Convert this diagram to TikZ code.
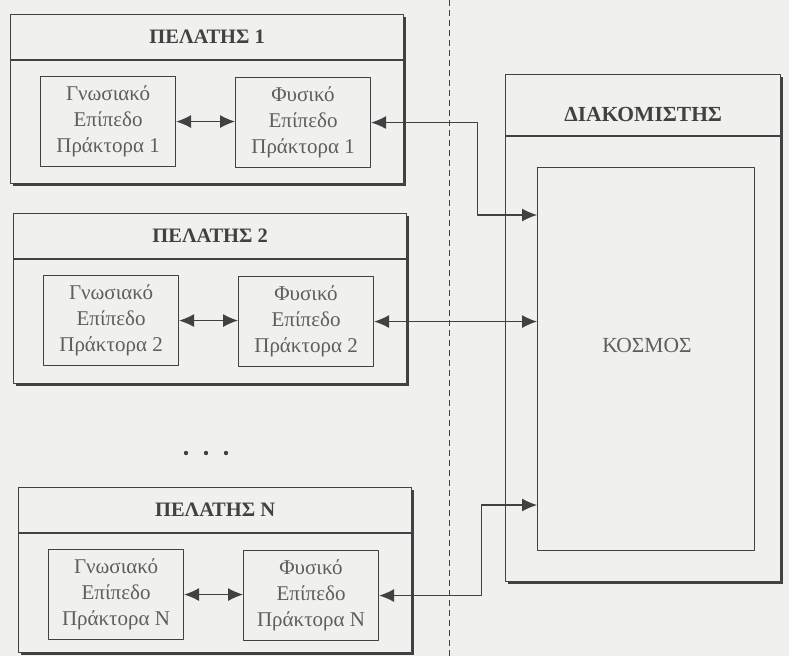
\documentclass[tikz,border=0pt]{standalone}
\usepackage{fontspec}
\setmainfont{Liberation Serif}
\usetikzlibrary{arrows.meta,shadows}
\definecolor{paper}{RGB}{240,240,238}
\definecolor{ink}{RGB}{65,65,65}
\tikzset{
	plain/.style={draw=ink, fill=paper, line width=1.1pt, anchor=north west, inner sep=0pt},
	outer/.style={plain, line width=1.3pt,
		general shadow={fill=ink, shadow xshift=2.5pt, shadow yshift=-2.5pt}},
	layer/.style={plain, minimum width=135pt, minimum height=90pt, align=center, text=ink!85,
		font=\fontsize{21}{26}\selectfont},
	title/.style={text=ink, font=\fontsize{20.5}{24}\selectfont\bfseries},
	link/.style={{Latex[length=15pt,width=13pt]}-{Latex[length=15pt,width=13pt]}, draw=ink, line width=1.1pt}
}
\begin{document}
\begin{tikzpicture}[x=1pt, y=-1pt, line join=round]
	\path[use as bounding box, fill=paper] (0,0) rectangle (789,656);
	\draw[ink, line width=0.8pt, dash pattern=on 6pt off 4pt] (449,0) -- (449,656);
	% clients
	\foreach \i/\x/\y/\h/\n in {1/10/14/169/1, 2/13/213/170/2, 3/18/487/165/N}{
		\node[outer, minimum width=393pt, minimum height=\h pt] (c\i) at (\x,\y) {};
		\draw[ink, line width=1.3pt] ([yshift=-46pt]c\i.north west) -- ([yshift=-46pt]c\i.north east);
		\node[title] (t\i) at ([yshift=-23pt]c\i.north) {ΠΕΛΑΤΗΣ \n};
		\node[layer] (g\i) at ([xshift=30pt,yshift=-62pt]c\i.north west) {Γνωσιακό\\Επίπεδο\\Πράκτορα \n};
		\node[layer] (f\i) at ([xshift=225pt,yshift=-63pt]c\i.north west) {Φυσικό\\Επίπεδο\\Πράκτορα \n};
		\draw[link] (g\i.east) -- (g\i.east -| f\i.west);
	}
	\foreach \x in {186,206,226} \fill[ink] (\x,453) circle (2.2pt);
	% server
	\node[outer, minimum width=275pt, minimum height=507pt] (s) at (505,74) {};
	\draw[ink, line width=1.3pt] ([yshift=-62pt]s.north west) -- ([yshift=-62pt]s.north east);
	\node[title, font=\fontsize{21.5}{24}\selectfont\bfseries] (st) at ([yshift=-40pt]s.north) {ΔΙΑΚΟΜΙΣΤΗΣ};
	\node[plain, minimum width=217pt, minimum height=383pt] (w) at (537,167) {};
	\node[text=ink!85, font=\fontsize{21.5}{24}\selectfont] (wt) at (647,345) {ΚΟΣΜΟΣ};
	\coordinate (w1) at (w.west |- 0,215);
	\coordinate (w3) at (w.west |- 0,505);
	\draw[link] (f1.east) -- ++(106,0) |- (w1);
	\draw[link] (f2.east) -- (f2.east -| w.west);
	\draw[link] (f3.east) -- ++(102,0) |- (w3);
\end{tikzpicture}
\end{document}
